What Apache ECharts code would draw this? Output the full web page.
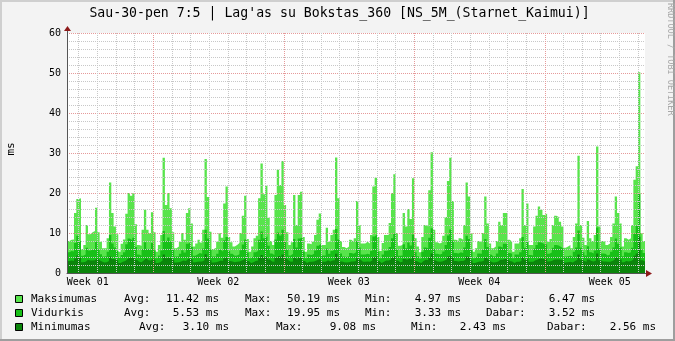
<!DOCTYPE html>
<html><head><meta charset="utf-8">
<script src="https://cdn.jsdelivr.net/npm/echarts@6/dist/echarts.min.js"></script>
<style>html,body{margin:0;padding:0;background:#f3f3f3}#c{width:675px;height:341px}</style>
</head><body><div id="c"></div>
<script>
// 3-hour bins over 31 days (248 bins)
const maxVals = [
8.0,8.3,8.4,15,18.5,18.7,6,7,
12,9.7,10.2,10.5,16.3,10.2,7.8,6.2,
6.2,8.7,22.6,15,11.6,9.7,5.3,7.3,
8.4,14.8,20,19.3,20,12.2,7,6.8,
10.8,15.8,10.8,10,15.2,10.2,5.3,7,
9.5,28.8,17,20,16.2,10.2,6.2,6.6,
7.8,10,8.3,15,16.2,12.4,6.6,7.4,
8.3,7.6,10.8,28.5,19,10.3,6,6.3,
7.8,10,8.8,17.4,21.6,9,7.7,6.6,
7,7.5,10,14.3,19.3,8.5,5.3,6.6,
8.7,9.3,18.7,27.4,19.7,21.8,13.8,8,
7,19.5,25.8,22,28,17,10.2,7,
7.7,19.5,12,19.5,20.3,9,5.3,7.4,
7.2,7.8,9.5,13.3,14.9,7,7,11.3,
7.8,9.5,10.8,28.9,18.7,8,6.5,6.2,
6.6,8.3,7.8,8.7,18,12,7.4,7.4,
7.8,7.4,9.5,21.6,23.8,9,5.5,7.5,
9.5,9.5,12.5,20,24.7,10,6.8,7,
15,11.6,16,13.5,23.7,8.7,6.6,5.2,
9,12,11.6,20.7,30.2,10.8,7.7,7.4,
7.7,9.3,14,23,28.8,18,8.3,8,
8.7,8.3,12,22.6,19.1,10,5.3,6.2,
8,7.7,10,19.1,12.4,7.4,6.2,6.6,
8,12.8,12,15,15,8.3,7.8,5.3,
7.4,7.4,8.7,21,12,17.4,7,7,
11.6,14.3,16.6,15.8,14.5,14.9,7.8,8.5,
12,14.3,14,12.8,11.6,6.3,6.6,7,
6.2,9,12.4,29.3,12,8.8,7,13,
8.7,8,9.5,31.6,11.6,8,7.8,7,
7.4,9,12.4,19.1,15,12.4,6.6,8.7,
8.3,8.7,12,23.3,26.7,50.19,10,8
];
const avgVals = [
5.2,5.5,5.4,7.5,9.3,8.0,4.3,4.6,
6.3,5.6,5.8,6.0,7.8,5.9,4.7,4.1,
4.2,5.3,9.5,7.4,6.4,5.5,3.8,4.5,
5.2,7.2,8.6,8.2,8.8,6.5,4.6,4.3,
6.0,7.7,6.0,5.8,7.5,5.7,3.7,4.4,
5.6,10.5,8.0,8.9,7.9,5.9,4.1,4.2,
4.8,5.7,5.1,7.3,7.7,6.5,4.3,4.6,
5.0,4.8,6.1,10.8,8.6,5.9,4.1,4.1,
4.8,5.8,5.3,8.2,9.0,5.5,4.8,4.3,
4.4,4.7,5.7,7.1,8.4,5.1,3.7,4.2,
5.2,5.5,8.3,10.4,8.7,9.2,6.8,4.9,
4.5,8.4,10.1,9.4,10.8,7.9,5.9,4.4,
4.8,8.5,6.4,8.6,8.9,5.4,3.7,4.6,
4.5,4.8,5.6,6.8,7.3,4.4,4.4,6.1,
4.8,5.5,6.0,11.0,8.4,4.9,4.1,4.0,
4.2,5.0,4.8,5.2,8.0,6.4,4.6,4.6,
4.8,4.6,5.5,9.1,9.6,5.4,3.7,4.6,
5.5,5.6,6.5,8.7,9.8,5.8,4.3,4.4,
7.2,6.2,7.6,6.9,9.6,5.2,4.2,3.6,
5.3,6.4,6.2,8.8,11.2,6.0,4.8,4.6,
4.8,5.4,7.0,9.4,10.9,8.1,5.0,4.9,
5.2,5.0,6.4,9.3,8.5,5.8,3.7,4.1,
4.9,4.8,5.8,8.5,6.5,4.6,4.1,4.2,
4.9,6.6,6.3,7.3,7.2,5.0,4.8,3.7,
4.6,4.6,5.2,9.0,6.3,7.9,4.5,4.4,
6.1,7.0,7.7,7.5,7.1,7.2,4.8,5.1,
6.3,7.0,6.9,6.5,6.1,4.1,4.2,4.4,
4.0,5.3,6.4,10.6,6.3,5.2,4.4,6.7,
5.2,4.9,5.6,11.4,6.1,4.9,4.8,4.4,
4.6,5.3,6.4,8.6,7.3,6.4,4.2,5.2,
5.0,5.2,6.3,9.8,11.8,19.95,5.9,5.0
];
const minVals = [
3.0,3.1,3.0,3.6,4.4,3.8,2.7,2.8,
3.3,3.1,3.1,3.2,3.7,3.2,2.9,2.6,
2.7,3.0,4.1,3.5,3.3,3.1,2.5,2.8,
3.0,3.5,3.9,3.8,4.0,3.3,2.8,2.7,
3.2,3.6,3.2,3.1,3.6,3.1,2.5,2.7,
3.1,4.6,3.7,3.9,3.6,3.2,2.6,2.7,
2.9,3.1,3.0,3.5,3.6,3.3,2.7,2.8,
2.9,2.9,3.2,4.7,3.8,3.2,2.6,2.7,
2.9,3.1,3.0,3.7,4.0,3.0,2.9,2.7,
2.8,2.9,3.1,3.4,3.8,3.0,2.5,2.7,
3.0,3.1,3.8,4.5,3.9,4.1,3.4,2.9,
2.8,3.8,4.3,4.0,4.6,3.7,3.2,2.8,
2.9,3.8,3.3,3.9,3.9,3.0,2.5,2.8,
2.8,2.9,3.1,3.4,3.5,2.8,2.8,3.2,
2.9,3.1,3.2,4.8,3.8,2.9,2.7,2.6,
2.7,2.9,2.9,3.0,3.7,3.3,2.8,2.8,
2.9,2.8,3.1,4.0,4.2,3.0,2.5,2.8,
3.1,3.1,3.3,3.9,4.3,3.1,2.7,2.8,
3.5,3.3,3.6,3.4,4.2,3.0,2.7,2.5,
3.0,3.3,3.2,3.9,4.9,3.2,2.9,2.8,
2.9,3.1,3.4,4.1,4.6,3.8,3.0,2.9,
3.0,3.0,3.3,4.1,3.9,3.1,2.5,2.7,
2.9,2.9,3.1,3.8,3.3,2.8,2.6,2.7,
2.9,3.3,3.3,3.5,3.5,3.0,2.9,2.5,
2.8,2.8,3.0,4.0,3.3,3.7,2.8,2.8,
3.2,3.4,3.6,3.6,3.4,3.5,2.9,3.0,
3.3,3.4,3.4,3.3,3.2,2.6,2.7,2.8,
2.6,3.0,3.3,4.6,3.3,3.0,2.8,3.4,
3.0,2.9,3.1,4.9,3.2,2.9,2.9,2.8,
2.8,3.0,3.3,3.9,3.5,3.3,2.7,3.0,
2.9,3.0,3.3,4.3,4.9,9.08,3.2,2.9
];
const seriesNames = ['Maksimumas','Vidurkis','Minimumas'];
const statAvg = [11.42, 5.53, 3.10];
const statMax = [50.19, 19.95, 9.08];
const statMin = [4.97, 3.33, 2.43];
const statLast = [6.47, 3.52, 2.56];
const weekLabels = ['Week 01','Week 02','Week 03','Week 04','Week 05'];
const titleText = "Sau-30-pen 7:5 | Lag'as su Bokstas_360 [NS_5M_(Starnet_Kaimui)]";
const yName = 'ms';
const sideText = 'RRDTOOL / TOBI OETIKER';

(function () {
// time axis geometry (in bins)
const N = maxVals.length;
const binsPerDay = 8, binsPerWeek = 56;
const firstDayLine = 4.9, firstWeekLine = 36.9, firstLabel = 8.9;
const dayLines = [], weekLines = [], labelPos = [];
for (let b = firstDayLine; b < N; b += binsPerDay) dayLines.push(+b.toFixed(2));
for (let b = firstWeekLine; b < N; b += binsPerWeek) weekLines.push(+b.toFixed(2));
for (let b = firstLabel; b < N; b += binsPerWeek) labelPos.push(+b.toFixed(2));
const minorDayLines = dayLines.filter(d => !weekLines.some(w => Math.abs(w - d) < 0.01));

const C_MAX = '#58e44c', C_AVG = '#18c018', C_MIN = '#0b850b';
const C_GRID = '#c8c8c8', C_MGRID = '#e69a9a';
const MONO = '"DejaVu Sans Mono", monospace';

function stepData(arr) {
  const d = arr.map((v, i) => [i, v]);
  d.push([arr.length, arr[arr.length - 1]]);
  return d;
}
function areaSeries(name, arr, color) {
  return { name, type: 'line', step: 'end', data: stepData(arr), xAxisIndex: 0, yAxisIndex: 0,
    symbol: 'none', showSymbol: false, silent: true, lineStyle: { width: 0, color },
    areaStyle: { color, opacity: 1 }, z: 2 };
}

const chart = echarts.init(document.getElementById('c'), null, { renderer: 'canvas' });

chart.setOption({
  animation: false,
  backgroundColor: '#f3f3f3',
  grid: { left: 67, right: 30, top: 33, bottom: 68, show: true, backgroundColor: '#ffffff', borderWidth: 0 },
  xAxis: { type: 'value', min: 0, max: N, position: 'bottom', z: 6,
      axisLine: { show: true, onZero: false, lineStyle: { color: '#555', width: 1 } },
      axisTick: { show: false },
      axisLabel: { customValues: labelPos, formatter: v => weekLabels[Math.round((v - firstLabel) / binsPerWeek)] || '',
        fontFamily: MONO, fontSize: 10, color: '#000', margin: 4 },
      splitLine: { show: false } },
  yAxis: { type: 'value', min: 0, max: 60, interval: 10, z: 5,
    axisLine: { show: true, lineStyle: { color: '#555', width: 1 } },
    axisTick: { show: false },
    axisLabel: { fontFamily: MONO, fontSize: 10, color: '#000', margin: 6 },
    splitLine: { show: true, lineStyle: { color: C_MGRID, type: 'dotted', width: 1 } },
    minorTick: { show: false, splitNumber: 5 },
    minorSplitLine: { show: true, lineStyle: { color: C_GRID, type: 'dotted', width: 1 } } },
  series: [
    areaSeries(seriesNames[0], maxVals, C_MAX),
    areaSeries(seriesNames[1], avgVals, C_AVG),
    areaSeries(seriesNames[2], minVals, C_MIN)
  ]
});

// decorations + vertical grid (positions from the axis scale)
const yTop = chart.convertToPixel({ yAxisIndex: 0 }, 60);
const yBot = chart.convertToPixel({ yAxisIndex: 0 }, 0);
const xLeft = chart.convertToPixel({ xAxisIndex: 0 }, 0);
const xRight = chart.convertToPixel({ xAxisIndex: 0 }, N);
function vline(v, color) {
  const x = Math.round(chart.convertToPixel({ xAxisIndex: 0 }, v)) + 0.5;
  return { type: 'line', silent: true, z: 10, shape: { x1: x, y1: yTop, x2: x, y2: yBot },
    style: { stroke: color, lineWidth: 1, lineDash: [1, 1] } };
}
const graphic = [
  { type: 'rect', shape: { x: 0, y: 0, width: 675, height: 2 }, style: { fill: '#cfcfcf' }, silent: true },
  { type: 'rect', shape: { x: 0, y: 0, width: 2, height: 341 }, style: { fill: '#cfcfcf' }, silent: true },
  { type: 'rect', shape: { x: 0, y: 339, width: 675, height: 2 }, style: { fill: '#9e9e9e' }, silent: true },
  { type: 'rect', shape: { x: 673, y: 0, width: 2, height: 341 }, style: { fill: '#9e9e9e' }, silent: true },
  { type: 'text', x: 339.5, y: 14, style: { text: titleText, font: '13.2px ' + MONO, fill: '#000', textAlign: 'center', textVerticalAlign: 'middle' }, silent: true },
  { type: 'text', x: 11, y: 149, rotation: Math.PI / 2, style: { text: yName, font: '11px ' + MONO, fill: '#000', textAlign: 'center', textVerticalAlign: 'middle' }, silent: true },
  { type: 'text', x: 670, y: 3, rotation: -Math.PI / 2, style: { text: sideText, font: '8.5px ' + MONO, fill: '#a8a8a8', textAlign: 'left', textVerticalAlign: 'middle' }, silent: true }
];
minorDayLines.forEach(v => graphic.push(vline(v, C_GRID)));
weekLines.forEach(v => graphic.push(vline(v, C_MGRID)));
const ax = Math.round(xLeft) + 0.5, ay = Math.round(yBot) + 0.5;
graphic.push(
  { type: 'line', shape: { x1: ax, y1: yTop, x2: ax, y2: yTop - 3 }, style: { stroke: '#555', lineWidth: 1 }, silent: true, z: 20 },
  { type: 'polygon', shape: { points: [[ax - 3.5, yTop - 2], [ax + 3.5, yTop - 2], [ax, yTop - 7]] }, style: { fill: '#8e1a1a' }, silent: true, z: 20 },
  { type: 'line', shape: { x1: xRight, y1: ay, x2: xRight + 2, y2: ay }, style: { stroke: '#555', lineWidth: 1 }, silent: true, z: 20 },
  { type: 'polygon', shape: { points: [[xRight + 1, ay - 3.5], [xRight + 1, ay + 3.5], [xRight + 7, ay]] }, style: { fill: '#8e1a1a' }, silent: true, z: 20 }
);

const colors = [C_MAX, C_AVG, C_MIN];
const rowY = [299.3, 313.3, 327.3];
const colsA = { name: 31, avgL: 124, avgR: 219, maxL: 245, maxR: 340, minL: 365, minR: 461, lastL: 486, lastR: 595 };
const colsB = { name: 31, avgL: 139, avgR: 229, maxL: 276, maxR: 376, minL: 411, minR: 506, lastL: 547, lastR: 656 };
function txt(t, x, y, align) {
  return { type: 'text', x, y, style: { text: t, font: '11px ' + MONO, fill: '#000', textAlign: align || 'left', textVerticalAlign: 'middle' }, silent: true };
}
for (let r = 0; r < 3; r++) {
  const c = r < 2 ? colsA : colsB;
  const y = rowY[r];
  graphic.push({ type: 'rect', shape: { x: 15.5, y: y - 3.8, width: 7, height: 7 }, style: { fill: colors[r], stroke: '#000', lineWidth: 1 }, silent: true });
  graphic.push(txt(seriesNames[r], c.name, y));
  graphic.push(txt('Avg:', c.avgL, y));
  graphic.push(txt(statAvg[r].toFixed(2) + ' ms', c.avgR, y, 'right'));
  graphic.push(txt('Max:', c.maxL, y));
  graphic.push(txt(statMax[r].toFixed(2) + ' ms', c.maxR, y, 'right'));
  graphic.push(txt('Min:', c.minL, y));
  graphic.push(txt(statMin[r].toFixed(2) + ' ms', c.minR, y, 'right'));
  graphic.push(txt('Dabar:', c.lastL, y));
  graphic.push(txt(statLast[r].toFixed(2) + ' ms', c.lastR, y, 'right'));
}
chart.setOption({ graphic });
})();
</script>
</body></html>
